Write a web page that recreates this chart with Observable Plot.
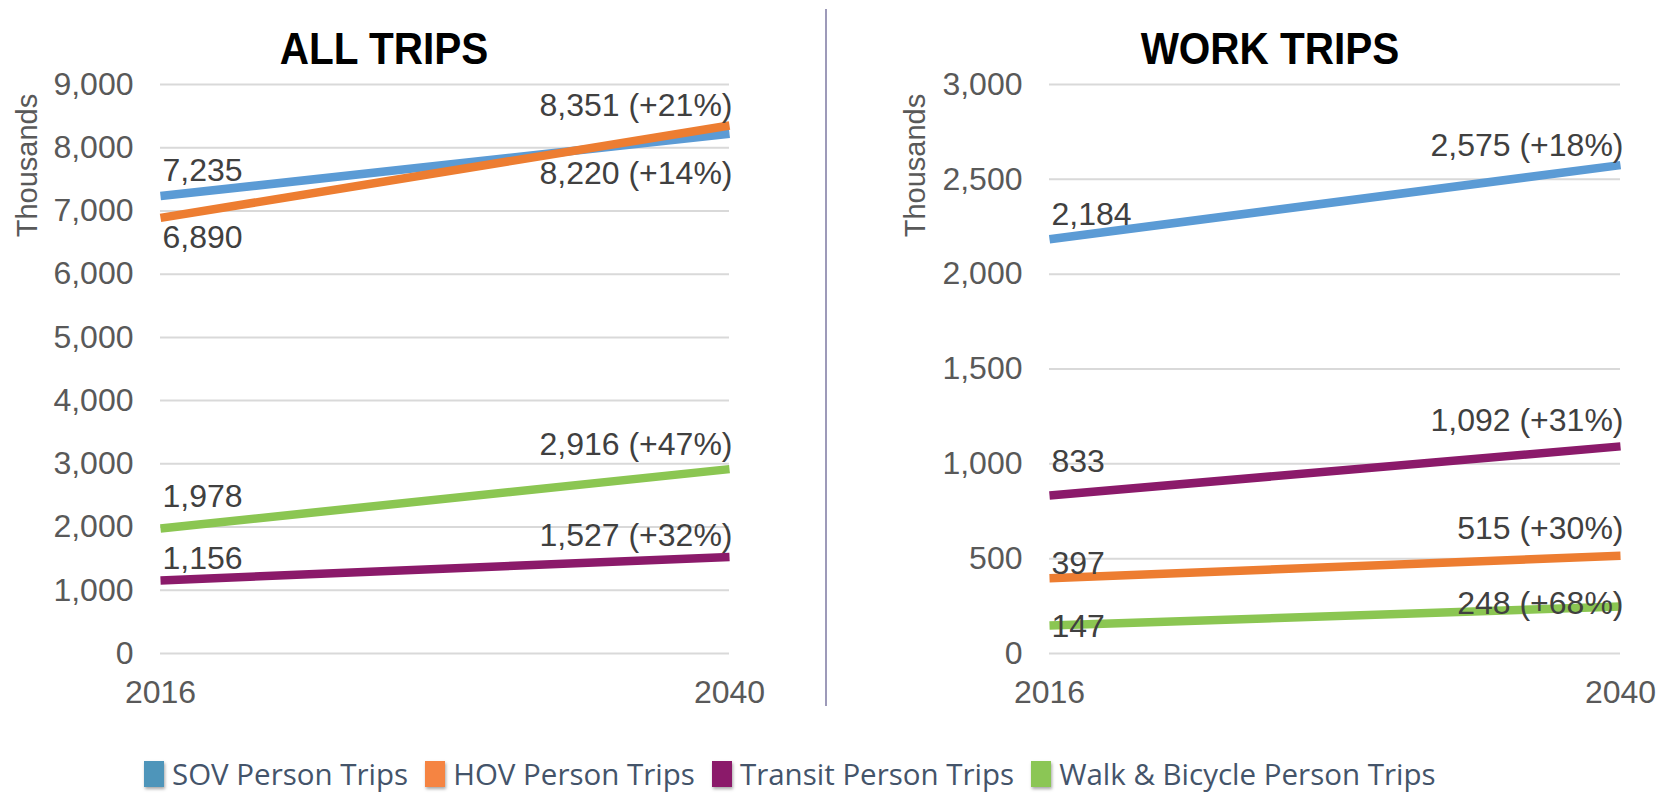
<!DOCTYPE html>
<html>
<head>
<meta charset="utf-8">
<script src="https://cdn.jsdelivr.net/npm/d3@7"></script>
<script src="https://cdn.jsdelivr.net/npm/@observablehq/plot@0.6"></script>
<style>
  html, body { margin: 0; padding: 0; background: #fff; }
  #root { position: relative; width: 1673px; height: 793px; background: #fff; }
  .panel { position: absolute; top: 0; }
  .title { position: absolute; top: 22px; font-family: "Liberation Sans", Arial, sans-serif; font-weight: 700; font-size: 45px; line-height: 54px; color: #000; white-space: nowrap; transform: translateX(-50%) scaleX(0.9); }
  #divider { position: absolute; left: 825px; top: 9px; width: 1.5px; height: 697px; background: #9d9ab9; }
  #legend { position: absolute; left: 144px; top: 753px; display: flex; align-items: center; font-family: "Open Sans", sans-serif; font-size: 29.5px; color: #44546A; white-space: nowrap; }
  .item { display: flex; align-items: center; margin-right: 17px; }
  .sw { width: 20px; height: 26px; margin-right: 8px; box-shadow: 1px 2px 3px rgba(0,0,0,0.35); }
</style>
</head>
<body>
<div id="root">
  <div id="left" class="panel" style="left:0px"></div>
  <div id="right" class="panel" style="left:825px"></div>
  <div class="title" style="left:384px">ALL TRIPS</div>
  <div class="title" style="left:1270px">WORK TRIPS</div>
  <div id="divider"></div>
  <div id="legend"></div>
</div>
<script>
// ---- data ----
const years = [2016, 2040];
const series = ["SOV Person Trips", "HOV Person Trips", "Transit Person Trips", "Walk & Bicycle Person Trips"];
const allTrips2016 = [7235, 6890, 1156, 1978];
const allTrips2040 = [8220, 8351, 1527, 2916];
const allTripsChange = ["+14%", "+21%", "+32%", "+47%"];
const workTrips2016 = [2184, 397, 833, 147];
const workTrips2040 = [2575, 515, 1092, 248];
const workTripsChange = ["+18%", "+30%", "+31%", "+68%"];
const allTripsTicks = [0, 1000, 2000, 3000, 4000, 5000, 6000, 7000, 8000, 9000];
const workTripsTicks = [0, 500, 1000, 1500, 2000, 2500, 3000];

// ---- styling ----
const lineColors = ["#5B9BD5", "#ED7D31", "#8B1A6A", "#8BC652"];
const legendColors = ["#4E95BA", "#F58442", "#8B1A6A", "#8BC655"];
// vertical pixel offsets of the value labels (start, end) per series
const allLabelDy = {start: [-25, 20, -22, -32], end: [40, -20, -21, -24]};
const workLabelDy = {start: [-25, -14, -34, 1], end: [-19, -27, -26, -3]};

const fmt = d3.format(",d");
function rowsOf(v0, v1, ch) {
  const rows = [];
  series.forEach((s, i) => {
    rows.push({series: s, i, year: years[0], value: v0[i], label: fmt(v0[i]), end: false});
    rows.push({series: s, i, year: years[1], value: v1[i], label: `${fmt(v1[i])} (${ch[i]})`, end: true});
  });
  return rows;
}

function chart({rows, ticks, dyMap, width, marginLeft, marginRight, titleDx}) {
  const labels = rows.map(r => Plot.text([r], {
    x: "year", y: "value", text: "label",
    textAnchor: r.end ? "end" : "start",
    dx: r.end ? 3 : 2,
    dy: r.end ? dyMap.end[r.i] : dyMap.start[r.i],
    fontSize: 32, fill: "#404040"
  }));
  return Plot.plot({
    width, height: 720,
    marginLeft, marginRight, marginTop: 84, marginBottom: 67,
    style: {fontFamily: "'Liberation Sans', Arial, sans-serif", color: "#595959", background: "transparent", overflow: "visible"},
    x: {domain: years},
    y: {domain: [0, d3.max(ticks)]},
    color: {domain: series, range: lineColors},
    marks: [
      Plot.gridY(ticks, {stroke: "#d9d9d9", strokeWidth: 2, strokeOpacity: 1}),
      Plot.axisY(ticks, {tickSize: 0, tickPadding: 27, fontSize: 32, tickFormat: fmt, label: null}),
      Plot.axisX(years, {tickSize: 0, tickPadding: 27, fontSize: 32, tickFormat: "d", label: null}),
      Plot.line(rows, {x: "year", y: "value", z: "series", stroke: "series", strokeWidth: 8.5, strokeLinecap: "butt"}),
      ...labels,
      Plot.text(["Thousands"], {frameAnchor: "top-left", text: d => d, rotate: -90, dx: titleDx, dy: 81,
        textAnchor: "middle", lineAnchor: "middle", fontSize: 29, fill: "#595959"})
    ]
  });
}

document.getElementById("left").append(chart({
  rows: rowsOf(allTrips2016, allTrips2040, allTripsChange),
  ticks: allTripsTicks, dyMap: allLabelDy,
  width: 825, marginLeft: 160, marginRight: 96, titleDx: -133
}));
document.getElementById("right").append(chart({
  rows: rowsOf(workTrips2016, workTrips2040, workTripsChange),
  ticks: workTripsTicks, dyMap: workLabelDy,
  width: 848, marginLeft: 224, marginRight: 53, titleDx: -134
}));

const legend = document.getElementById("legend");
series.forEach((s, i) => {
  const item = document.createElement("div");
  item.className = "item";
  const sw = document.createElement("span");
  sw.className = "sw";
  sw.style.background = legendColors[i];
  const t = document.createElement("span");
  t.textContent = s;
  item.append(sw, t);
  legend.append(item);
});
</script>
</body>
</html>
